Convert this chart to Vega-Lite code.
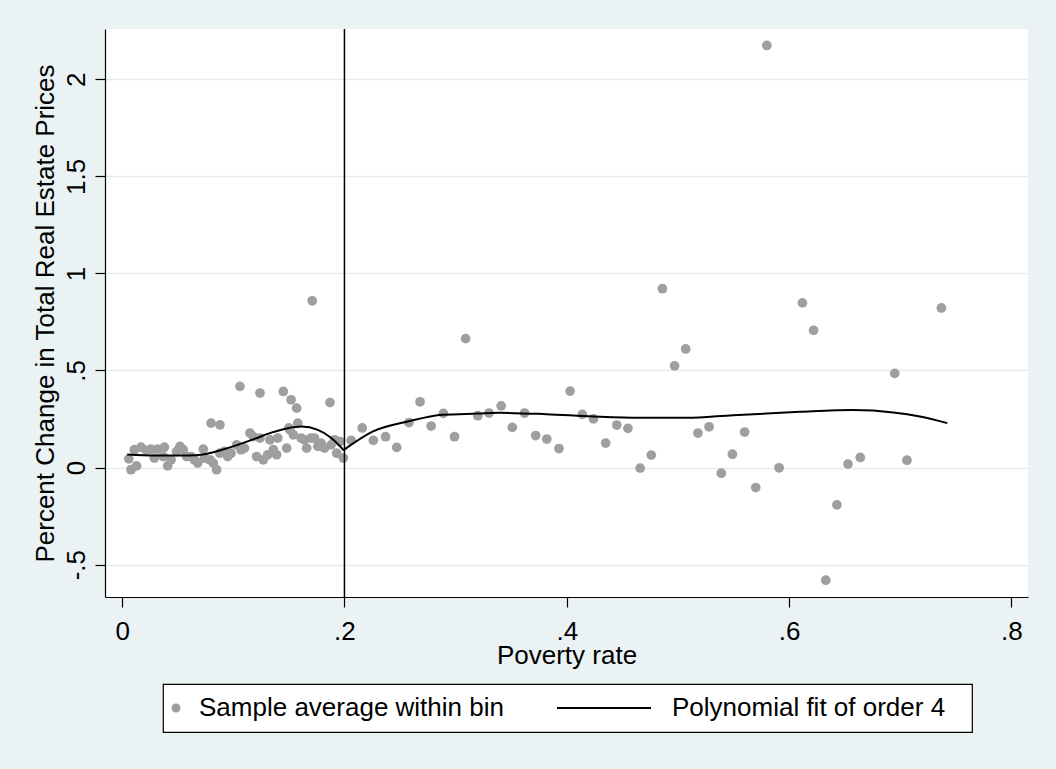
{
  "$schema": "https://vega.github.io/schema/vega-lite/v6.json",
  "width": 923,
  "height": 568,
  "autosize": {"type": "none"},
  "padding": {"left": 105, "top": 29, "right": 28, "bottom": 172},
  "background": "#EAF2F3",
  "config": {
    "view": {"fill": "white", "stroke": null},
    "font": "Liberation Sans",
    "axis": {
      "domainColor": "black",
      "domainWidth": 1.2,
      "tickColor": "black",
      "tickWidth": 1.2,
      "tickSize": 10,
      "labelFont": "Liberation Sans",
      "labelFontSize": 26,
      "labelColor": "black",
      "labelFlush": false,
      "labelOverlap": false,
      "titleFont": "Liberation Sans",
      "titleFontSize": 26,
      "titleFontWeight": "normal",
      "titleColor": "black"
    },
    "legend": {
      "orient": "none",
      "direction": "horizontal",
      "padding": 0,
      "clipHeight": 48,
      "symbolOffset": 0,
      "strokeWidth": 1.2,
      "labelFont": "Liberation Sans",
      "labelFontSize": 26,
      "labelColor": "black",
      "labelLimit": 0
    }
  },
  "datasets": {
    "bins": [
      {"poverty": 0.006, "change": 0.045, "series": "Sample average within bin"},
      {"poverty": 0.008, "change": -0.011, "series": "Sample average within bin"},
      {"poverty": 0.013, "change": 0.009, "series": "Sample average within bin"},
      {"poverty": 0.011, "change": 0.092, "series": "Sample average within bin"},
      {"poverty": 0.017, "change": 0.105, "series": "Sample average within bin"},
      {"poverty": 0.022, "change": 0.088, "series": "Sample average within bin"},
      {"poverty": 0.026, "change": 0.095, "series": "Sample average within bin"},
      {"poverty": 0.029, "change": 0.049, "series": "Sample average within bin"},
      {"poverty": 0.032, "change": 0.095, "series": "Sample average within bin"},
      {"poverty": 0.038, "change": 0.105, "series": "Sample average within bin"},
      {"poverty": 0.037, "change": 0.057, "series": "Sample average within bin"},
      {"poverty": 0.041, "change": 0.009, "series": "Sample average within bin"},
      {"poverty": 0.044, "change": 0.040, "series": "Sample average within bin"},
      {"poverty": 0.049, "change": 0.083, "series": "Sample average within bin"},
      {"poverty": 0.052, "change": 0.109, "series": "Sample average within bin"},
      {"poverty": 0.055, "change": 0.092, "series": "Sample average within bin"},
      {"poverty": 0.058, "change": 0.057, "series": "Sample average within bin"},
      {"poverty": 0.062, "change": 0.057, "series": "Sample average within bin"},
      {"poverty": 0.065, "change": 0.040, "series": "Sample average within bin"},
      {"poverty": 0.068, "change": 0.023, "series": "Sample average within bin"},
      {"poverty": 0.073, "change": 0.095, "series": "Sample average within bin"},
      {"poverty": 0.074, "change": 0.049, "series": "Sample average within bin"},
      {"poverty": 0.079, "change": 0.040, "series": "Sample average within bin"},
      {"poverty": 0.082, "change": 0.023, "series": "Sample average within bin"},
      {"poverty": 0.085, "change": -0.011, "series": "Sample average within bin"},
      {"poverty": 0.080, "change": 0.229, "series": "Sample average within bin"},
      {"poverty": 0.088, "change": 0.220, "series": "Sample average within bin"},
      {"poverty": 0.088, "change": 0.074, "series": "Sample average within bin"},
      {"poverty": 0.092, "change": 0.083, "series": "Sample average within bin"},
      {"poverty": 0.095, "change": 0.057, "series": "Sample average within bin"},
      {"poverty": 0.098, "change": 0.074, "series": "Sample average within bin"},
      {"poverty": 0.103, "change": 0.117, "series": "Sample average within bin"},
      {"poverty": 0.106, "change": 0.418, "series": "Sample average within bin"},
      {"poverty": 0.107, "change": 0.092, "series": "Sample average within bin"},
      {"poverty": 0.110, "change": 0.100, "series": "Sample average within bin"},
      {"poverty": 0.115, "change": 0.178, "series": "Sample average within bin"},
      {"poverty": 0.118, "change": 0.160, "series": "Sample average within bin"},
      {"poverty": 0.121, "change": 0.057, "series": "Sample average within bin"},
      {"poverty": 0.124, "change": 0.152, "series": "Sample average within bin"},
      {"poverty": 0.124, "change": 0.384, "series": "Sample average within bin"},
      {"poverty": 0.127, "change": 0.040, "series": "Sample average within bin"},
      {"poverty": 0.131, "change": 0.066, "series": "Sample average within bin"},
      {"poverty": 0.133, "change": 0.143, "series": "Sample average within bin"},
      {"poverty": 0.136, "change": 0.092, "series": "Sample average within bin"},
      {"poverty": 0.139, "change": 0.066, "series": "Sample average within bin"},
      {"poverty": 0.140, "change": 0.152, "series": "Sample average within bin"},
      {"poverty": 0.145, "change": 0.392, "series": "Sample average within bin"},
      {"poverty": 0.148, "change": 0.100, "series": "Sample average within bin"},
      {"poverty": 0.150, "change": 0.204, "series": "Sample average within bin"},
      {"poverty": 0.151, "change": 0.195, "series": "Sample average within bin"},
      {"poverty": 0.152, "change": 0.349, "series": "Sample average within bin"},
      {"poverty": 0.154, "change": 0.169, "series": "Sample average within bin"},
      {"poverty": 0.157, "change": 0.306, "series": "Sample average within bin"},
      {"poverty": 0.158, "change": 0.229, "series": "Sample average within bin"},
      {"poverty": 0.161, "change": 0.152, "series": "Sample average within bin"},
      {"poverty": 0.164, "change": 0.143, "series": "Sample average within bin"},
      {"poverty": 0.166, "change": 0.100, "series": "Sample average within bin"},
      {"poverty": 0.170, "change": 0.152, "series": "Sample average within bin"},
      {"poverty": 0.171, "change": 0.859, "series": "Sample average within bin"},
      {"poverty": 0.173, "change": 0.152, "series": "Sample average within bin"},
      {"poverty": 0.176, "change": 0.109, "series": "Sample average within bin"},
      {"poverty": 0.179, "change": 0.126, "series": "Sample average within bin"},
      {"poverty": 0.182, "change": 0.100, "series": "Sample average within bin"},
      {"poverty": 0.187, "change": 0.335, "series": "Sample average within bin"},
      {"poverty": 0.188, "change": 0.117, "series": "Sample average within bin"},
      {"poverty": 0.191, "change": 0.143, "series": "Sample average within bin"},
      {"poverty": 0.193, "change": 0.074, "series": "Sample average within bin"},
      {"poverty": 0.196, "change": 0.134, "series": "Sample average within bin"},
      {"poverty": 0.199, "change": 0.049, "series": "Sample average within bin"},
      {"poverty": 0.206, "change": 0.140, "series": "Sample average within bin"},
      {"poverty": 0.216, "change": 0.204, "series": "Sample average within bin"},
      {"poverty": 0.226, "change": 0.140, "series": "Sample average within bin"},
      {"poverty": 0.237, "change": 0.159, "series": "Sample average within bin"},
      {"poverty": 0.247, "change": 0.104, "series": "Sample average within bin"},
      {"poverty": 0.258, "change": 0.232, "series": "Sample average within bin"},
      {"poverty": 0.268, "change": 0.339, "series": "Sample average within bin"},
      {"poverty": 0.278, "change": 0.214, "series": "Sample average within bin"},
      {"poverty": 0.289, "change": 0.279, "series": "Sample average within bin"},
      {"poverty": 0.299, "change": 0.159, "series": "Sample average within bin"},
      {"poverty": 0.309, "change": 0.664, "series": "Sample average within bin"},
      {"poverty": 0.320, "change": 0.267, "series": "Sample average within bin"},
      {"poverty": 0.330, "change": 0.281, "series": "Sample average within bin"},
      {"poverty": 0.341, "change": 0.318, "series": "Sample average within bin"},
      {"poverty": 0.351, "change": 0.207, "series": "Sample average within bin"},
      {"poverty": 0.362, "change": 0.281, "series": "Sample average within bin"},
      {"poverty": 0.372, "change": 0.165, "series": "Sample average within bin"},
      {"poverty": 0.382, "change": 0.147, "series": "Sample average within bin"},
      {"poverty": 0.393, "change": 0.098, "series": "Sample average within bin"},
      {"poverty": 0.403, "change": 0.394, "series": "Sample average within bin"},
      {"poverty": 0.414, "change": 0.274, "series": "Sample average within bin"},
      {"poverty": 0.424, "change": 0.251, "series": "Sample average within bin"},
      {"poverty": 0.435, "change": 0.126, "series": "Sample average within bin"},
      {"poverty": 0.445, "change": 0.219, "series": "Sample average within bin"},
      {"poverty": 0.455, "change": 0.202, "series": "Sample average within bin"},
      {"poverty": 0.466, "change": -0.003, "series": "Sample average within bin"},
      {"poverty": 0.476, "change": 0.064, "series": "Sample average within bin"},
      {"poverty": 0.486, "change": 0.921, "series": "Sample average within bin"},
      {"poverty": 0.497, "change": 0.524, "series": "Sample average within bin"},
      {"poverty": 0.507, "change": 0.611, "series": "Sample average within bin"},
      {"poverty": 0.518, "change": 0.178, "series": "Sample average within bin"},
      {"poverty": 0.528, "change": 0.210, "series": "Sample average within bin"},
      {"poverty": 0.539, "change": -0.029, "series": "Sample average within bin"},
      {"poverty": 0.549, "change": 0.069, "series": "Sample average within bin"},
      {"poverty": 0.560, "change": 0.183, "series": "Sample average within bin"},
      {"poverty": 0.570, "change": -0.103, "series": "Sample average within bin"},
      {"poverty": 0.580, "change": 2.174, "series": "Sample average within bin"},
      {"poverty": 0.591, "change": -0.001, "series": "Sample average within bin"},
      {"poverty": 0.612, "change": 0.848, "series": "Sample average within bin"},
      {"poverty": 0.622, "change": 0.707, "series": "Sample average within bin"},
      {"poverty": 0.633, "change": -0.580, "series": "Sample average within bin"},
      {"poverty": 0.643, "change": -0.192, "series": "Sample average within bin"},
      {"poverty": 0.653, "change": 0.018, "series": "Sample average within bin"},
      {"poverty": 0.664, "change": 0.052, "series": "Sample average within bin"},
      {"poverty": 0.695, "change": 0.485, "series": "Sample average within bin"},
      {"poverty": 0.706, "change": 0.038, "series": "Sample average within bin"},
      {"poverty": 0.737, "change": 0.822, "series": "Sample average within bin"}
    ],
    "fit": [
      {"poverty": 0.0046, "change": 0.067, "seg": "left", "series": "Polynomial fit of order 4"},
      {"poverty": 0.0292, "change": 0.062, "seg": "left", "series": "Polynomial fit of order 4"},
      {"poverty": 0.0591, "change": 0.062, "seg": "left", "series": "Polynomial fit of order 4"},
      {"poverty": 0.0742, "change": 0.069, "seg": "left", "series": "Polynomial fit of order 4"},
      {"poverty": 0.0892, "change": 0.091, "seg": "left", "series": "Polynomial fit of order 4"},
      {"poverty": 0.1041, "change": 0.117, "seg": "left", "series": "Polynomial fit of order 4"},
      {"poverty": 0.1192, "change": 0.148, "seg": "left", "series": "Polynomial fit of order 4"},
      {"poverty": 0.1342, "change": 0.180, "seg": "left", "series": "Polynomial fit of order 4"},
      {"poverty": 0.1491, "change": 0.203, "seg": "left", "series": "Polynomial fit of order 4"},
      {"poverty": 0.1612, "change": 0.211, "seg": "left", "series": "Polynomial fit of order 4"},
      {"poverty": 0.1761, "change": 0.194, "seg": "left", "series": "Polynomial fit of order 4"},
      {"poverty": 0.1882, "change": 0.152, "seg": "left", "series": "Polynomial fit of order 4"},
      {"poverty": 0.1995, "change": 0.088, "seg": "left", "series": "Polynomial fit of order 4"},
      {"poverty": 0.1995, "change": 0.091, "seg": "right", "series": "Polynomial fit of order 4"},
      {"poverty": 0.2257, "change": 0.186, "seg": "right", "series": "Polynomial fit of order 4"},
      {"poverty": 0.2569, "change": 0.237, "seg": "right", "series": "Polynomial fit of order 4"},
      {"poverty": 0.2884, "change": 0.272, "seg": "right", "series": "Polynomial fit of order 4"},
      {"poverty": 0.3196, "change": 0.278, "seg": "right", "series": "Polynomial fit of order 4"},
      {"poverty": 0.3406, "change": 0.282, "seg": "right", "series": "Polynomial fit of order 4"},
      {"poverty": 0.3817, "change": 0.275, "seg": "right", "series": "Polynomial fit of order 4"},
      {"poverty": 0.4237, "change": 0.263, "seg": "right", "series": "Polynomial fit of order 4"},
      {"poverty": 0.4657, "change": 0.256, "seg": "right", "series": "Polynomial fit of order 4"},
      {"poverty": 0.5077, "change": 0.256, "seg": "right", "series": "Polynomial fit of order 4"},
      {"poverty": 0.5497, "change": 0.270, "seg": "right", "series": "Polynomial fit of order 4"},
      {"poverty": 0.6097, "change": 0.287, "seg": "right", "series": "Polynomial fit of order 4"},
      {"poverty": 0.6577, "change": 0.296, "seg": "right", "series": "Polynomial fit of order 4"},
      {"poverty": 0.6937, "change": 0.284, "seg": "right", "series": "Polynomial fit of order 4"},
      {"poverty": 0.7177, "change": 0.263, "seg": "right", "series": "Polynomial fit of order 4"},
      {"poverty": 0.7423, "change": 0.229, "seg": "right", "series": "Polynomial fit of order 4"}
    ],
    "cutoff": [{"poverty": 0.2}]
  },
  "resolve": {"scale": {"color": "independent"}, "legend": {"color": "independent"}},
  "layer": [
    {
      "data": {"name": "bins"},
      "mark": {"type": "point", "filled": true, "size": 95, "opacity": 1},
      "encoding": {
        "x": {
          "field": "poverty",
          "type": "quantitative",
          "scale": {"domain": [-0.0154, 0.8149], "nice": false, "zero": false},
          "axis": {
            "title": "Poverty rate",
            "values": [0, 0.2, 0.4, 0.6, 0.8],
            "labelExpr": "['0','.2','.4','.6','.8'][round(datum.value*5)]",
            "grid": false,
            "labelPadding": 11,
            "labelBaseline": "top",
            "titleY": 66,
            "titleBaseline": "alphabetic"
          }
        },
        "y": {
          "field": "change",
          "type": "quantitative",
          "scale": {"domain": [-0.6665, 2.2587], "nice": false, "zero": false},
          "axis": {
            "title": "Percent Change in Total Real Estate Prices",
            "values": [-0.5, 0, 0.5, 1, 1.5, 2],
            "labelExpr": "['-.5','0','.5','1','1.5','2'][round(datum.value*2)+1]",
            "grid": true,
            "gridColor": "#E2EBEE",
            "gridWidth": 1.5,
            "labelAngle": 270,
            "labelAlign": "center",
            "labelBaseline": "alphabetic",
            "labelPadding": 11,
            "titleX": -51.5,
            "titleY": 284,
            "titleAngle": 270,
            "titleAlign": "center",
            "titleBaseline": "alphabetic"
          }
        },
        "color": {
          "field": "series",
          "type": "nominal",
          "scale": {"domain": ["Sample average within bin"], "range": ["#9F9F9F"]},
          "legend": {
            "title": null,
            "orient": "none",
            "legendX": 58,
            "legendY": 655,
            "fillColor": "white",
            "strokeColor": "black",
            "symbolType": "circle",
            "symbolSize": 81,
            "symbolStrokeWidth": 0,
            "labelOffset": 10,
            "zindex": 1,
            "labelExpr": "datum.label + '\u2003\u2003\u2003\u2003\u2003\u2003\u2003\u2003\u2003\u2003\u2003\u2003\u2003\u2003\u2003\u2003\u2003\u2003\u200b'"
          }
        }
      }
    },
    {
      "data": {"name": "fit"},
      "mark": {"type": "line", "interpolate": "monotone", "strokeWidth": 2},
      "encoding": {
        "x": {"field": "poverty", "type": "quantitative"},
        "y": {"field": "change", "type": "quantitative"},
        "color": {
          "field": "series",
          "type": "nominal",
          "scale": {"domain": ["Polynomial fit of order 4"], "range": ["#000000"]},
          "legend": {
            "title": null,
            "orient": "none",
            "legendX": 451,
            "legendY": 655,
            "symbolType": "stroke",
            "symbolSize": 8836,
            "symbolStrokeWidth": 2,
            "symbolStrokeColor": "#000000",
            "labelOffset": 20,
            "zindex": 2
          }
        },
        "detail": {"field": "seg", "type": "nominal"}
      }
    },
    {
      "data": {"name": "cutoff"},
      "mark": {"type": "rule", "color": "black", "strokeWidth": 1.5},
      "encoding": {
        "x": {"field": "poverty", "type": "quantitative"}
      }
    }
  ]
}
